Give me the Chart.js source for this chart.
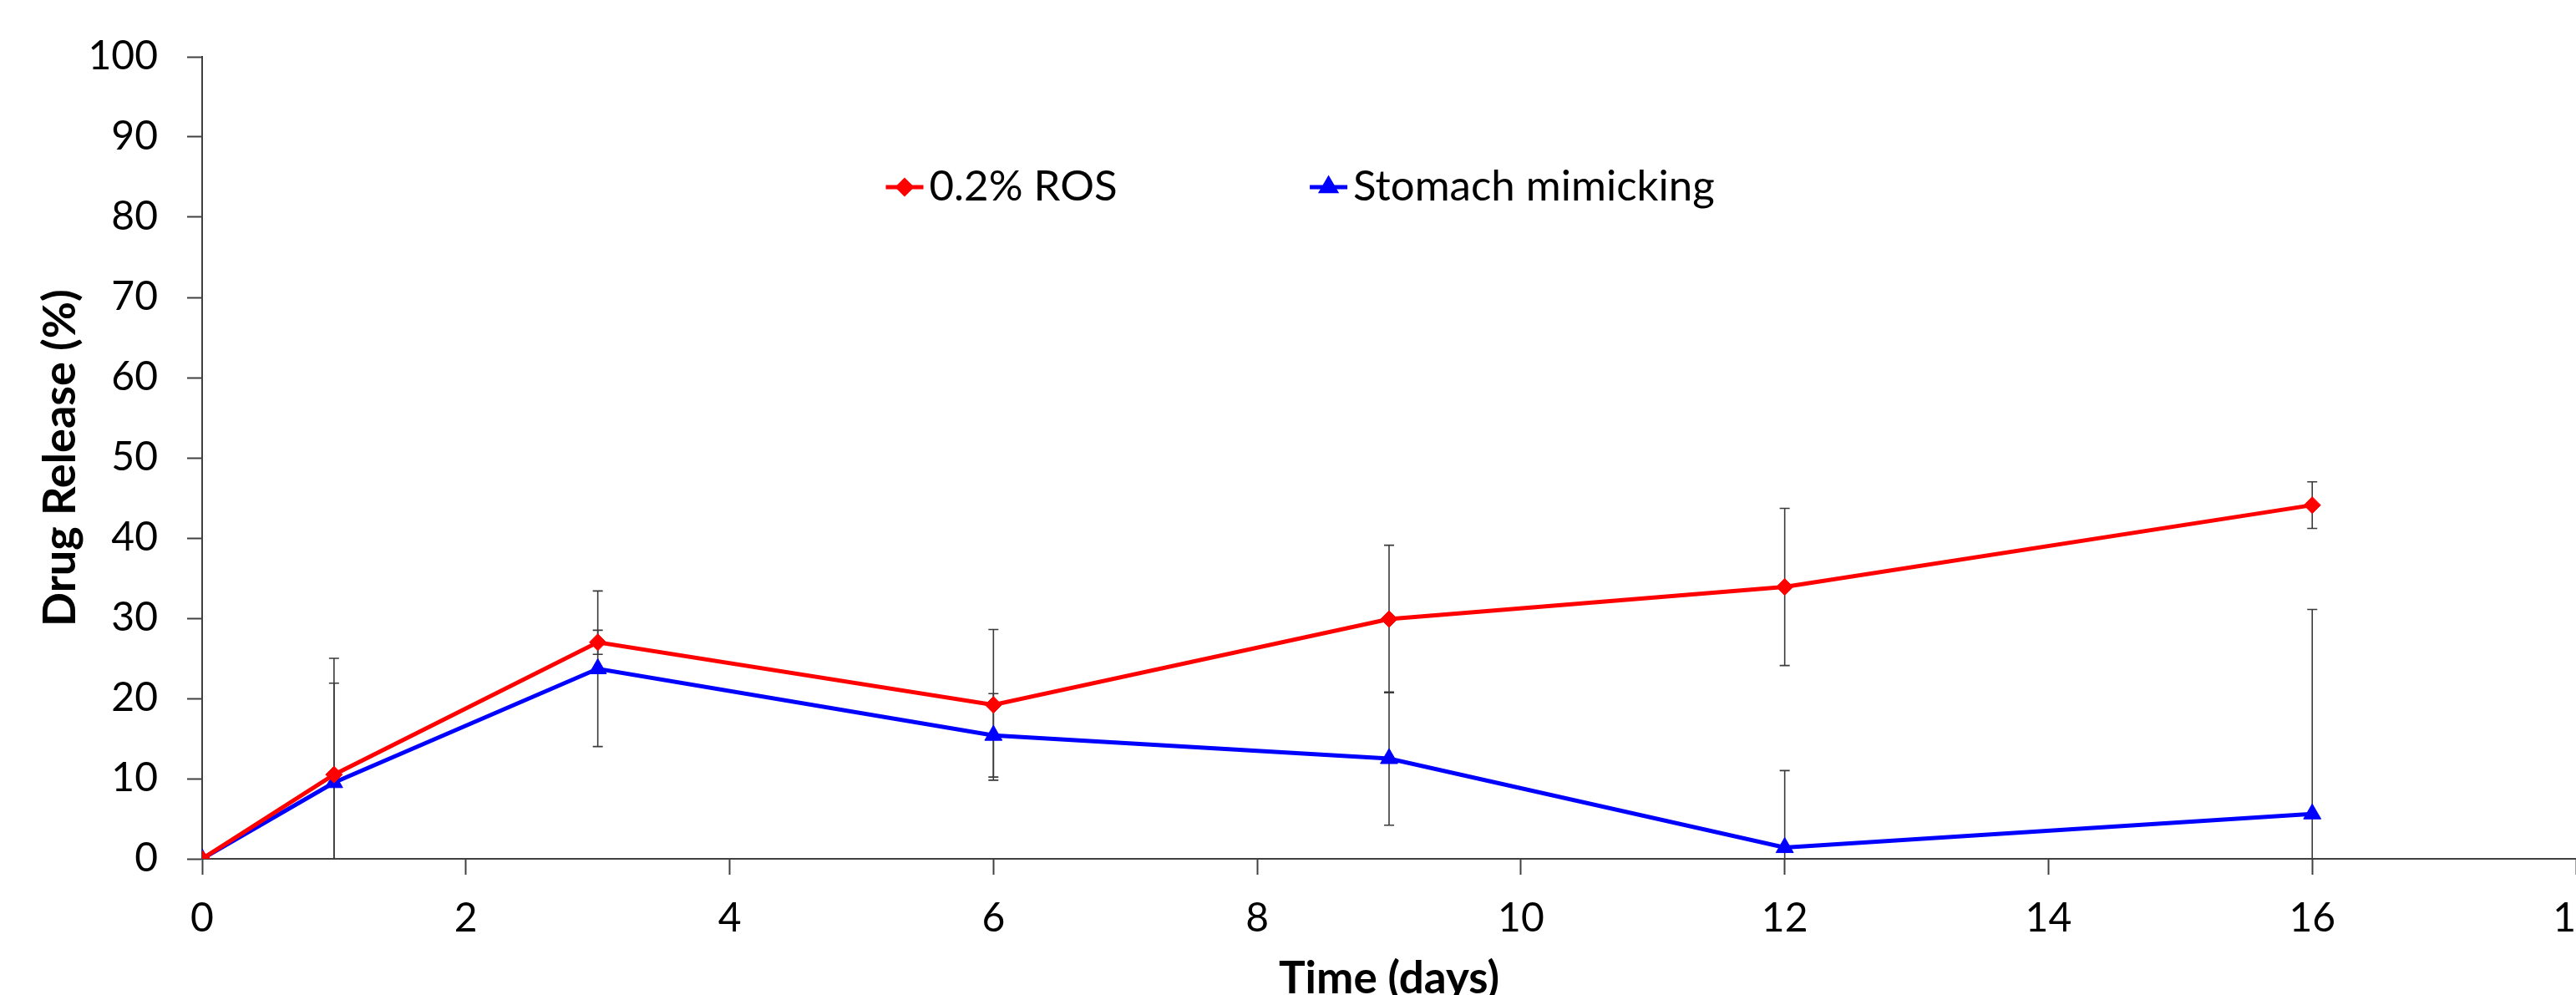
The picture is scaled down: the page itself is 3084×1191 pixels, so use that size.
<!DOCTYPE html>
<html>
<head>
<meta charset="utf-8">
<script src="https://cdn.jsdelivr.net/npm/chart.js@4"></script>
<style>
  html, body { margin: 0; padding: 0; background: #fff; overflow: hidden; width: 3084px; height: 1191px; }
  canvas { display: block; }
</style>
</head>
<body>
<!-- a little wider than the window so the "18" label is cut at the edge like the original -->
<canvas id="releaseChart" width="3097" height="1191"></canvas>
<script>
// sampling days and read-off values
const days = [0, 1, 3, 6, 9, 12, 16];
const rosValues = [0, 10.5, 27.0, 19.2, 29.9, 33.9, 44.1];
const rosErrors = [0, 14.5, 1.5, 9.4, 9.2, 9.8, 2.9];
const stomachValues = [0, 9.5, 23.7, 15.4, 12.5, 1.4, 5.6];
const stomachErrors = [0, 12.4, 9.7, 5.2, 8.3, 9.6, 25.5];
const seriesNames = ['0.2% ROS', 'Stomach mimicking'];
const xTicks = [0, 2, 4, 6, 8, 10, 12, 14, 16, 18];
const yTicks = [0, 10, 20, 30, 40, 50, 60, 70, 80, 90, 100];

const FONT = 'Lato, "Open Sans", sans-serif';
const AXIS_COLOR = '#404040';

function toPoints(values) {
    return values.map((v, i) => ({ x: days[i], y: v }));
}

// vertical error bars with caps, clipped to the plot area like Excel does
const errorBars = {
    id: 'errorBars',
    beforeDatasetsDraw(chart) {
        const { ctx, chartArea, scales } = chart;
        ctx.save();
        ctx.beginPath();
        ctx.rect(chartArea.left, chartArea.top, chartArea.right - chartArea.left, chartArea.bottom - chartArea.top);
        ctx.clip();
        ctx.strokeStyle = '#3a3a3a';
        ctx.lineWidth = 1.6;
        chart.data.datasets.forEach(ds => {
            ds.data.forEach((p, i) => {
                const err = ds.errors[i];
                if (!err) return;
                const px = scales.x.getPixelForValue(p.x);
                const yTop = scales.y.getPixelForValue(p.y + err);
                const yBot = scales.y.getPixelForValue(p.y - err);
                ctx.beginPath();
                ctx.moveTo(px, yTop);
                ctx.lineTo(px, yBot);
                ctx.moveTo(px - 6, yTop);
                ctx.lineTo(px + 6, yTop);
                ctx.moveTo(px - 6, yBot);
                ctx.lineTo(px + 6, yBot);
                ctx.stroke();
            });
        });
        ctx.restore();
    }
};

// legend sitting inside the plot, one row
const legendSlots = [0.288, 0.4666];
const innerLegend = {
    id: 'innerLegend',
    afterDatasetsDraw(chart) {
        const { ctx, chartArea } = chart;
        const w = chartArea.right - chartArea.left;
        const h = chartArea.bottom - chartArea.top;
        const y = chartArea.top + 0.1625 * h;
        ctx.save();
        ctx.font = '51px ' + FONT;
        ctx.textBaseline = 'middle';
        ctx.textAlign = 'left';
        chart.data.datasets.forEach((ds, k) => {
            const x = chartArea.left + legendSlots[k] * w;
            ctx.strokeStyle = ds.borderColor;
            ctx.lineWidth = ds.borderWidth;
            ctx.beginPath();
            ctx.moveTo(x, y);
            ctx.lineTo(x + 45, y);
            ctx.stroke();
            Chart.helpers.drawPoint(ctx, {
                pointStyle: ds.pointStyle,
                radius: ds.pointRadius * 0.8,
                borderWidth: 1
            }, x + 22.5, y);
            ctx.fillStyle = ds.pointBackgroundColor;
            ctx.fill();
            ctx.fillStyle = '#000';
            ctx.fillText(ds.label, x + 52, y);
        });
        ctx.restore();
    }
};

const ctx = document.getElementById('releaseChart').getContext('2d');

new Chart(ctx, {
    type: 'line',
    data: {
        datasets: [
            {
                label: seriesNames[0],
                data: toPoints(rosValues),
                errors: rosErrors,
                borderColor: '#ff0000',
                backgroundColor: '#ff0000',
                pointBackgroundColor: '#ff0000',
                pointBorderColor: '#ff0000',
                borderWidth: 5,
                pointStyle: 'rectRot',
                pointRadius: 10,
                pointBorderWidth: 1,
                tension: 0
            },
            {
                label: seriesNames[1],
                data: toPoints(stomachValues),
                errors: stomachErrors,
                borderColor: '#0000ff',
                backgroundColor: '#0000ff',
                pointBackgroundColor: '#0000ff',
                pointBorderColor: '#0000ff',
                borderWidth: 5,
                pointStyle: 'triangle',
                pointRadius: 12,
                pointBorderWidth: 1,
                tension: 0
            }
        ]
    },
    options: {
        responsive: false,
        animation: false,
        devicePixelRatio: 1,
        layout: { padding: { left: 40, top: 68, right: 0, bottom: 0 } },
        plugins: {
            legend: { display: false },
            tooltip: { enabled: false }
        },
        scales: {
            x: {
                type: 'linear',
                min: 0,
                max: 18,
                afterBuildTicks: s => { s.ticks = xTicks.map(v => ({ value: v })); },
                afterFit: s => { s.height = 163; s.paddingRight = 0; s.paddingLeft = 0; },
                grid: { drawOnChartArea: false, drawTicks: true, tickLength: 19, tickColor: AXIS_COLOR, tickWidth: 2 },
                border: { color: AXIS_COLOR, width: 2 },
                ticks: { color: '#000', padding: 24, maxRotation: 0, font: { family: FONT, size: 48 } },
                title: {
                    display: true,
                    text: 'Time (days)',
                    color: '#000',
                    padding: { top: 0, bottom: -13 },
                    font: { family: FONT, size: 53, weight: 'bold' }
                }
            },
            y: {
                min: 0,
                max: 100,
                afterBuildTicks: s => { s.ticks = yTicks.map(v => ({ value: v })); },
                afterFit: s => { s.width = 202; },
                grid: { drawOnChartArea: false, drawTicks: true, tickLength: 18, tickColor: AXIS_COLOR, tickWidth: 2 },
                border: { color: AXIS_COLOR, width: 2 },
                ticks: { color: '#000', padding: 35, font: { family: FONT, size: 48 } },
                title: {
                    display: true,
                    text: 'Drug Release (%)',
                    color: '#000',
                    padding: { top: 0, bottom: 7 },
                    font: { family: FONT, size: 54, weight: 'bold' }
                }
            }
        }
    },
    plugins: [errorBars, innerLegend]
});
</script>
</body>
</html>
